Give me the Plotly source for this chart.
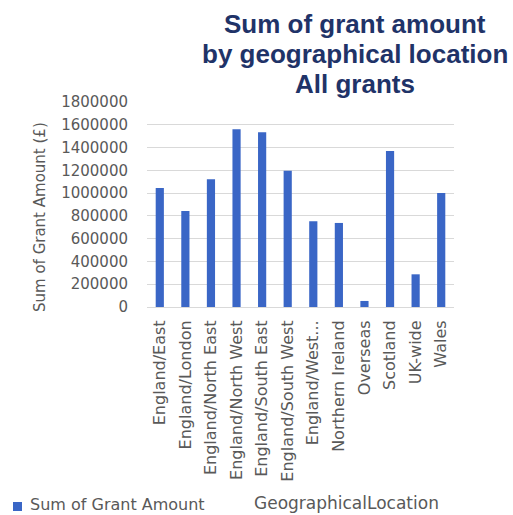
import plotly.graph_objects as go

# Grant totals by geographical location
locations = [
    "England/East", "England/London", "England/North East", "England/North West",
    "England/South East", "England/South West", "England/West Midlands",
    "Northern Ireland", "Overseas", "Scotland", "UK-wide", "Wales",
]
tick_labels = [
    "England/East", "England/London", "England/North East", "England/North West",
    "England/South East", "England/South West", "England/West...",
    "Northern Ireland", "Overseas", "Scotland", "UK-wide", "Wales",
]
grant_totals = [
    1045000, 843000, 1121000, 1560000, 1534000, 1197000,
    752000, 738000, 53000, 1370000, 287000, 1001000,
]
y_ticks = list(range(0, 1800001, 200000))
title_lines = ["Sum of grant amount", "by geographical location", "All grants"]

BAR_BLUE = "#3A66C6"
GREY = "#595959"
TITLE_FONT = "Liberation Sans"
FONT = "DejaVu Sans"

# plot area in pixels
W, H = 513, 515
PL, PR, PT, PB = 147, 454, 102, 307


def px(x):
    return (x - PL) / (PR - PL)


def py(y):
    return (PB - y) / (PB - PT)


fig = go.Figure(
    go.Bar(
        x=locations,
        y=grant_totals,
        marker=dict(color=BAR_BLUE, line=dict(width=0)),
        name="Sum of Grant Amount",
    )
)

fig.update_layout(
    width=W,
    height=H,
    margin=dict(l=PL, r=W - PR, t=PT, b=H - PB),
    paper_bgcolor="white",
    plot_bgcolor="white",
    bargap=0.68,
    showlegend=False,
    font=dict(family=FONT, color=GREY),
)

fig.update_xaxes(
    tickmode="array",
    tickvals=locations,
    ticktext=tick_labels,
    tickangle=-90,
    tickfont=dict(size=16, color=GREY, family=FONT),
    showline=True,
    linecolor="#d9d9d9",
    linewidth=1,
    ticks="",
    showgrid=False,
    ticklabelstandoff=6,
)
fig.update_yaxes(
    range=[0, 1800000],
    tickmode="array",
    tickvals=y_ticks,
    ticktext=[str(v) for v in y_ticks],
    tickfont=dict(size=15, color=GREY, family=FONT),
    gridcolor="#d9d9d9",
    gridwidth=1,
    zeroline=False,
    ticks="",
    ticklabelstandoff=18,
)

# Title block, one line per annotation for tight spacing
for i, line in enumerate(title_lines):
    fig.add_annotation(
        text=f"<b>{line}</b>",
        xref="paper", yref="paper",
        x=px(355), y=py(24 + 30 * i),
        xanchor="center", yanchor="middle",
        showarrow=False,
        font=dict(family=TITLE_FONT, size=26, color="#1F3368"),
    )

# Y axis title
fig.add_annotation(
    text="Sum of Grant Amount (£)",
    xref="paper", yref="paper",
    x=px(40), y=py(217),
    xanchor="center", yanchor="middle",
    textangle=-90,
    showarrow=False,
    font=dict(family=FONT, size=15, color=GREY),
)

# Legend swatch and label
fig.add_shape(
    type="rect",
    xref="paper", yref="paper",
    x0=px(13), x1=px(22),
    y0=py(511), y1=py(502),
    fillcolor=BAR_BLUE, line=dict(width=0),
)
fig.add_annotation(
    text="Sum of Grant Amount",
    xref="paper", yref="paper",
    x=px(28), y=py(504),
    xanchor="left", yanchor="middle",
    showarrow=False,
    font=dict(family=FONT, size=16, color=GREY),
)

# Field button label
fig.add_annotation(
    text="GeographicalLocation",
    xref="paper", yref="paper",
    x=px(252), y=py(503),
    xanchor="left", yanchor="middle",
    showarrow=False,
    font=dict(family=FONT, size=17, color=GREY),
)

fig.write_html("out.html")
